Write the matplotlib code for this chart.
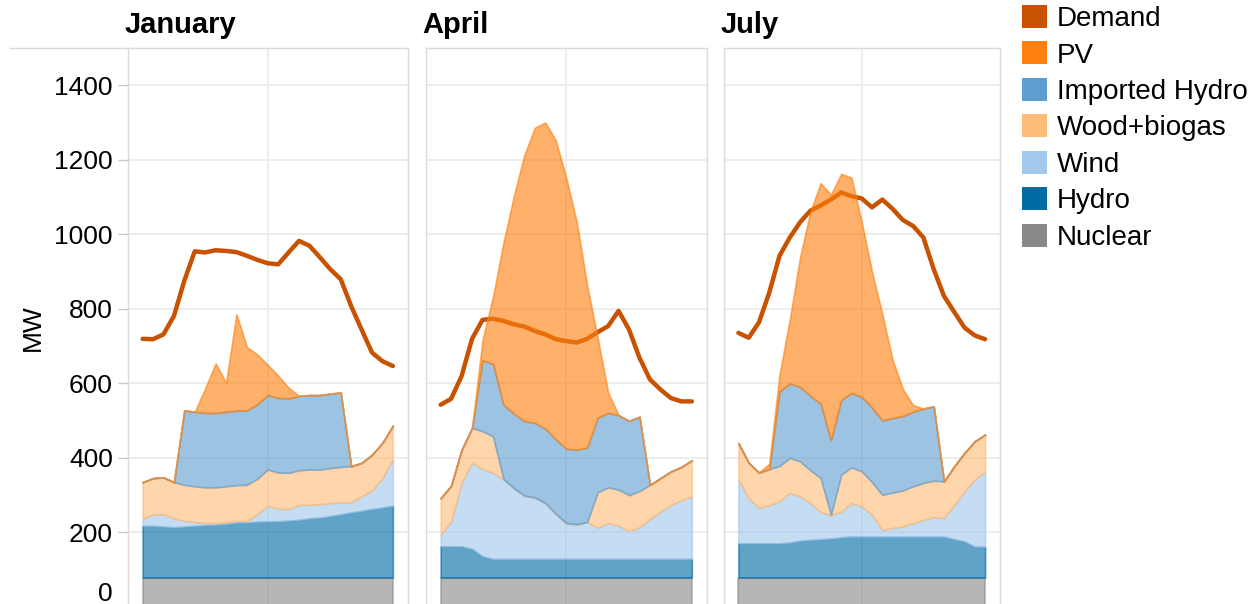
import numpy as np
import matplotlib
matplotlib.use("Agg")
import matplotlib.pyplot as plt
from matplotlib.patches import Patch
from matplotlib.lines import Line2D
from matplotlib.transforms import ScaledTranslation

plt.rcParams['font.family'] = ['Liberation Sans', 'DejaVu Sans']

hours = list(range(25))
months = ['January', 'April', 'July']

# stack order, bottom to top
layer_names = ['Nuclear', 'Hydro', 'Wind', 'Wood+biogas', 'Imported Hydro', 'PV']
layer_colors = ['#898989', '#006BA4', '#A2C8EC', '#FFBC79', '#5F9ED1', '#FF800E']
demand_color = '#C85200'

# January
jan_nuclear = [78, 78, 78, 78, 78, 78, 78, 78, 78, 78, 78, 78, 78, 78, 78, 78, 78, 78, 78, 78, 78, 78, 78, 78, 78]
jan_hydro = [139, 139, 137, 135, 137, 139, 141, 142, 144, 148, 148, 150, 151, 151, 153, 155, 159, 161, 165, 170, 175, 179, 184, 188, 193]
jan_wind = [18, 30, 33, 24, 15, 10, 5, 4, 4, 4, 4, 20, 42, 34, 31, 40, 36, 36, 35, 32, 27, 39, 50, 79, 124]
jan_wood = [99, 98, 99, 97, 97, 96, 96, 96, 97, 96, 97, 95, 97, 97, 97, 93, 95, 93, 94, 95, 97, 90, 96, 95, 91]
jan_imported = [0, 0, 0, 0, 200, 200, 200, 200, 200, 200, 200, 200, 200, 200, 200, 200, 200, 200, 200, 200, 0, 0, 0, 0, 0]
jan_pv = [0, 0, 0, 0, 0, 0, 66, 133, 78, 259, 170, 134, 81, 60, 29, 0, 0, 0, 0, 0, 0, 0, 0, 0, 0]
jan_demand = [719, 718, 731, 780, 875, 954, 951, 957, 955, 952, 942, 931, 922, 919, 951, 982, 969, 938, 906, 879, 807, 744, 682, 659, 646]

# April
apr_nuclear = [78, 78, 78, 78, 78, 78, 78, 78, 78, 78, 78, 78, 78, 78, 78, 78, 78, 78, 78, 78, 78, 78, 78, 78, 78]
apr_hydro = [84, 84, 84, 77, 57, 50, 50, 50, 50, 50, 50, 50, 50, 50, 50, 50, 50, 50, 50, 50, 50, 50, 50, 50, 50]
apr_wind = [31, 66, 170, 231, 234, 231, 214, 190, 170, 165, 150, 121, 96, 93, 99, 84, 96, 89, 74, 85, 107, 127, 145, 157, 168]
apr_wood = [98, 97, 89, 94, 102, 98, 0, 0, 0, 0, 0, 0, 0, 0, 0, 95, 96, 97, 97, 97, 92, 90, 90, 90, 97]
apr_imported = [0, 0, 0, 0, 190, 195, 200, 200, 200, 200, 200, 200, 200, 200, 200, 200, 200, 200, 200, 200, 0, 0, 0, 0, 0]
apr_pv = [0, 0, 0, 0, 55, 180, 435, 585, 715, 793, 822, 803, 727, 612, 435, 215, 55, 0, 0, 0, 0, 0, 0, 0, 0]
apr_demand = [542, 558, 619, 719, 770, 773, 767, 758, 752, 740, 731, 718, 713, 709, 719, 737, 753, 794, 744, 668, 610, 583, 560, 551, 551]

# July
jul_nuclear = [78, 78, 78, 78, 78, 78, 78, 78, 78, 78, 78, 78, 78, 78, 78, 78, 78, 78, 78, 78, 78, 78, 78, 78, 78]
jul_hydro = [92, 92, 92, 92, 92, 94, 99, 101, 103, 105, 108, 110, 110, 110, 110, 110, 110, 110, 110, 110, 110, 103, 97, 83, 83]
jul_wind = [171, 121, 95, 102, 113, 133, 119, 99, 72, 63, 69, 90, 81, 58, 18, 23, 27, 36, 45, 52, 50, 92, 134, 180, 202]
jul_wood = [98, 95, 95, 97, 95, 94, 94, 88, 92, 0, 99, 96, 94, 88, 94, 95, 97, 99, 99, 98, 98, 104, 104, 103, 99]
jul_imported = [0, 0, 0, 0, 200, 200, 200, 200, 200, 200, 200, 200, 200, 200, 200, 200, 200, 200, 200, 200, 0, 0, 0, 0, 0]
jul_pv = [0, 0, 0, 15, 45, 172, 348, 494, 592, 660, 608, 578, 469, 365, 285, 157, 72, 18, 0, 0, 0, 0, 0, 0, 0]
jul_demand = [735, 722, 763, 843, 942, 991, 1032, 1063, 1077, 1093, 1112, 1102, 1096, 1072, 1093, 1068, 1038, 1022, 991, 906, 834, 791, 749, 728, 718]

panels = [
    (jan_demand, [jan_nuclear, jan_hydro, jan_wind, jan_wood, jan_imported, jan_pv]),
    (apr_demand, [apr_nuclear, apr_hydro, apr_wind, apr_wood, apr_imported, apr_pv]),
    (jul_demand, [jul_nuclear, jul_hydro, jul_wind, jul_wood, jul_imported, jul_pv]),
]

W, H = 1260, 604
fig = plt.figure(figsize=(W / 100, H / 100), dpi=100)

# panel left edge / width in pixels
panel_px = [(128, 280), (426, 281), (724, 276)]
y_zero_px = 606.6
y_top_px = 48
bottom = (H - y_zero_px) / H
height = (y_zero_px - y_top_px) / H

grid_color = '#ececec'
frame_color = '#dadada'

for i, (month, (demand, layers)) in enumerate(zip(months, panels)):
    left, width = panel_px[i]
    ax = fig.add_axes([left / W, bottom, width / W, height])
    ax.set_xlim(-1.4, 25.45)
    ax.set_ylim(0, 1500)
    ax.set_yticks(range(0, 1401, 200))
    ax.set_xticks([12])
    ax.grid(True, color=grid_color, linewidth=1.3)
    ax.set_axisbelow(True)
    ax.tick_params(axis='x', length=0, labelbottom=False)
    for sp in ax.spines.values():
        sp.set_color(frame_color)
        sp.set_linewidth(1.0)

    if i == 0:
        ax.tick_params(axis='y', length=7.2, width=1, color='#c8c8c8',
                       labelsize=19, pad=3.6)
        ax.set_ylabel('MW', fontsize=19, labelpad=7)
        # the zero label sits a bit higher so it stays inside the picture
        zero_lbl = ax.yaxis.get_major_ticks()[0].label1
        zero_lbl.set_transform(zero_lbl.get_transform() +
                               ScaledTranslation(0, 0.15, fig.dpi_scale_trans))
    else:
        ax.tick_params(axis='y', length=0, labelleft=False)

    ax.plot(hours, demand, color=demand_color, linewidth=3.2, zorder=2,
            solid_joinstyle='round', solid_capstyle='round')

    base = np.zeros(len(hours))
    for vals, c in zip(layers, layer_colors):
        top = base + np.array(vals)
        ax.fill_between(hours, base, top, facecolor=c, edgecolor=c,
                        alpha=0.62, linewidth=1.2, zorder=3)
        base = top

    ax.set_title(month, loc='left', fontsize=21, fontweight='bold', pad=11, x=-0.012)

# header line to the left of the first panel
fig.add_artist(Line2D([10 / W, 128 / W], [(H - y_top_px) / H] * 2,
                      color=frame_color, linewidth=1.0))

legend_order = ['Demand', 'PV', 'Imported Hydro', 'Wood+biogas', 'Wind', 'Hydro', 'Nuclear']
legend_colors = dict(zip(layer_names, layer_colors))
legend_colors['Demand'] = demand_color
handles = [Patch(facecolor=legend_colors[n], edgecolor='none') for n in legend_order]
fig.legend(handles, legend_order, loc='upper left', bbox_to_anchor=(1022 / W, (H - 5) / H),
           frameon=False, fontsize=20, handlelength=0.9, handleheight=0.9,
           handletextpad=0.36, labelspacing=0.335, borderaxespad=0, borderpad=0)

fig.savefig('out.png', dpi=100)
